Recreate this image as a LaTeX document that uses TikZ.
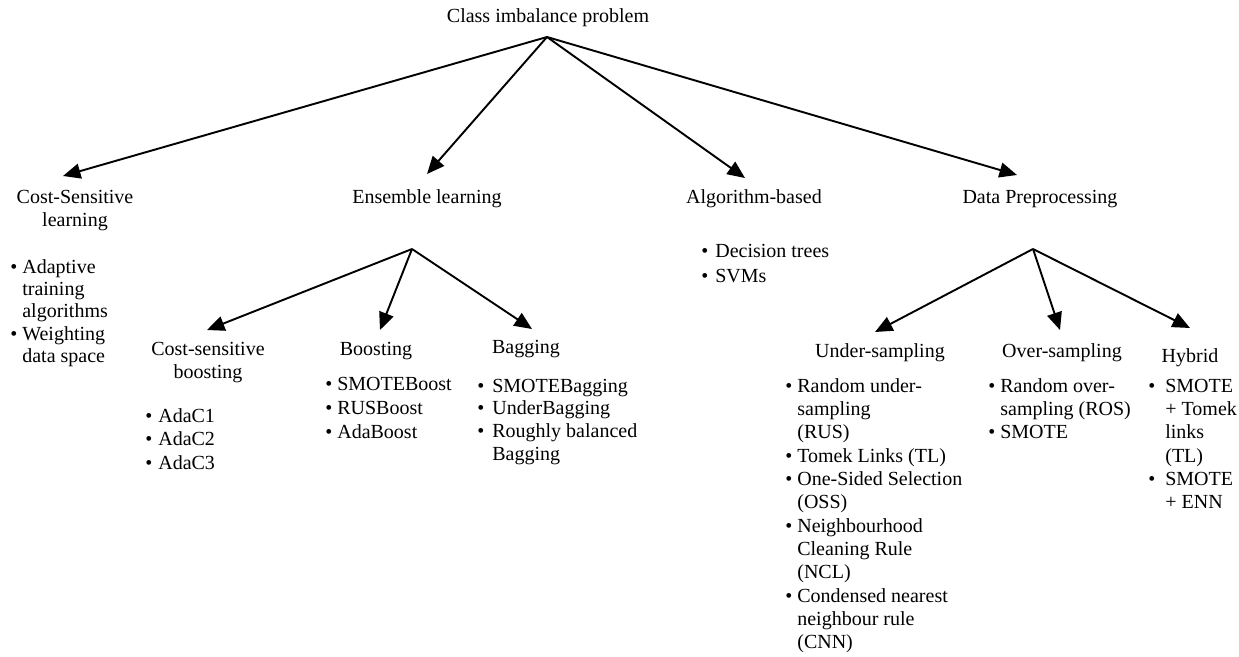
\documentclass[tikz,border=0pt]{standalone}
\usepackage{fontspec}
\setmainfont{Liberation Serif}
\usetikzlibrary{arrows.meta}
\newlength{\bgap}
\newcommand{\lbul}{\makebox[\bgap][l]{\textbullet}}
\newcommand{\lcont}{\hspace*{\bgap}}
\tikzset{
  txt/.style={inner sep=0pt, font=\fontsize{12pt}{14pt}\selectfont},
  lbl/.style={txt, anchor=base},
  lst/.style={txt, anchor=base west},
  arr/.style={line width=1.15pt, -{Triangle[length=10.5pt,width=9pt]}}
}
\begin{document}
\begin{tikzpicture}[x=0.6pt,y=-0.6pt]
\useasboundingbox (0,0) rectangle (1239,657);

% level 1
\node[lbl] (root) at (548,23) {Class imbalance problem};
\coordinate (root-o) at (547,37);

% level 2
\node[lbl] (csl) at (75,203) {\begin{tabular}[t]{@{}c@{}}Cost-Sensitive\\ learning\end{tabular}};
\node[lbl] (ens) at (427,203) {Ensemble learning};
\node[lbl] (alg) at (754,203) {Algorithm-based};
\node[lbl] (dp) at (1040,203) {Data Preprocessing};

\coordinate (t-csl) at (63,176);
\coordinate (t-ens) at (427,174);
\coordinate (t-alg) at (745,178);
\coordinate (t-dp) at (1017,175);

\draw[arr] (root-o) -- (t-csl);
\draw[arr] (root-o) -- (t-ens);
\draw[arr] (root-o) -- (t-alg);
\draw[arr] (root-o) -- (t-dp);

% lists under level 2
\node[lst] (l-csl) at (10,273) {\setlength{\bgap}{7.2pt}\fontsize{12pt}{13.4pt}\selectfont
  \begin{tabular}[t]{@{}l@{}}\lbul Adaptive\\ \lcont training\\ \lcont algorithms\\ \lbul Weighting\\ \lcont data space\end{tabular}};
\node[lst] (l-alg) at (701,257) {\setlength{\bgap}{8.4pt}\fontsize{12pt}{15pt}\selectfont
  \begin{tabular}[t]{@{}l@{}}\lbul Decision trees\\ \lbul SVMs\end{tabular}};

% ensemble sub-tree
\coordinate (ens-o) at (412,249);
\node[lbl] (csb) at (208,355) {\begin{tabular}[t]{@{}c@{}}Cost-sensitive\\ boosting\end{tabular}};
\node[lbl] (boo) at (376,355) {Boosting};
\node[lbl] (bag) at (526,353) {Bagging};
\coordinate (t-csb) at (207,330);
\coordinate (t-boo) at (380,330);
\coordinate (t-bag) at (532,329);
\draw[arr] (ens-o) -- (t-csb);
\draw[arr] (ens-o) -- (t-boo);
\draw[arr] (ens-o) -- (t-bag);

\node[lst] (l-csb) at (145,422) {\setlength{\bgap}{7.8pt}\fontsize{12pt}{14.1pt}\selectfont
  \begin{tabular}[t]{@{}l@{}}\lbul AdaC1\\ \lbul AdaC2\\ \lbul AdaC3\end{tabular}};
\node[lst] (l-boo) at (325,390) {\setlength{\bgap}{7.2pt}\fontsize{12pt}{14.4pt}\selectfont
  \begin{tabular}[t]{@{}l@{}}\lbul SMOTEBoost\\ \lbul RUSBoost\\ \lbul AdaBoost\end{tabular}};
\node[lst] (l-bag) at (477,392) {\setlength{\bgap}{9pt}\fontsize{12pt}{13.7pt}\selectfont
  \begin{tabular}[t]{@{}l@{}}\lbul SMOTEBagging\\ \lbul UnderBagging\\ \lbul Roughly balanced\\ \lcont Bagging\end{tabular}};

% data preprocessing sub-tree
\coordinate (dp-o) at (1033,249);
\node[lbl] (und) at (880,357) {Under-sampling};
\node[lbl] (ovr) at (1062,357) {Over-sampling};
\node[lbl] (hyb) at (1190,362) {Hybrid};
\coordinate (t-und) at (875,332);
\coordinate (t-ovr) at (1060,330);
\coordinate (t-hyb) at (1190,328);
\draw[arr] (dp-o) -- (t-und);
\draw[arr] (dp-o) -- (t-ovr);
\draw[arr] (dp-o) -- (t-hyb);

\node[lst] (l-und) at (780,392) {\setlength{\bgap}{7.2pt}
  \begin{tabular}[t]{@{}l@{}}\lbul Random under-\\ \lcont sampling\\ \lcont (RUS)\\ \lbul Tomek Links (TL)\\ \lbul One-Sided Selection\\ \lcont (OSS)\\ \lbul Neighbourhood\\ \lcont Cleaning Rule\\ \lcont (NCL)\\ \lbul Condensed nearest\\ \lcont neighbour rule\\ \lcont (CNN)\end{tabular}};
\node[lst] (l-ovr) at (983,392) {\setlength{\bgap}{7.2pt}
  \begin{tabular}[t]{@{}l@{}}\lbul Random over-\\ \lcont sampling (ROS)\\ \lbul SMOTE\end{tabular}};
\node[lst] (l-hyb) at (1143,392) {\setlength{\bgap}{10.2pt}
  \begin{tabular}[t]{@{}l@{}}\lbul SMOTE\\ \lcont + Tomek\\ \lcont links\\ \lcont (TL)\\ \lbul SMOTE\\ \lcont + ENN\end{tabular}};
\end{tikzpicture}
\end{document}
